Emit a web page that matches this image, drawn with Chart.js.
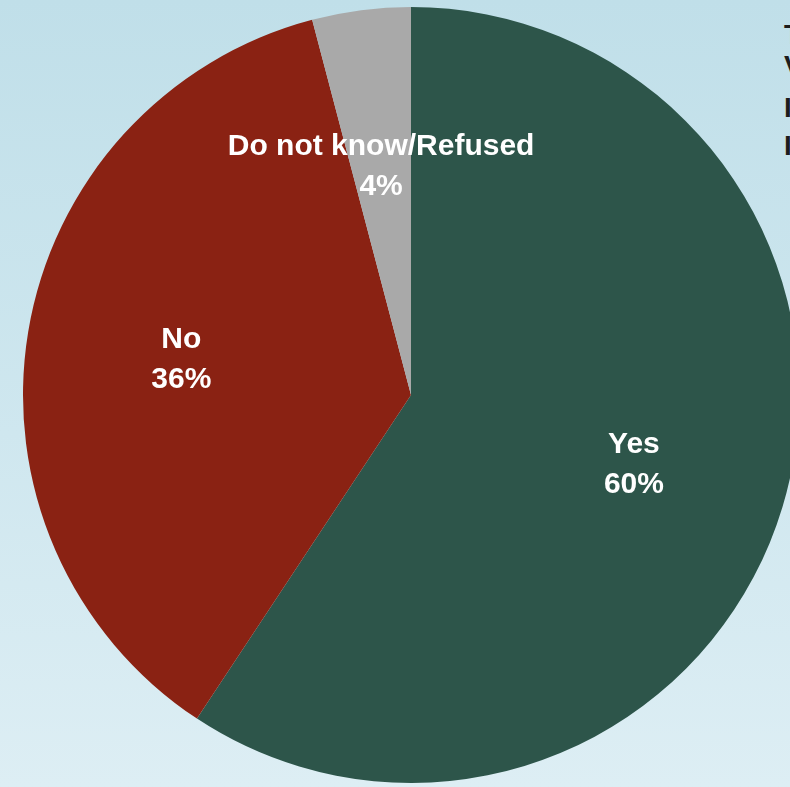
<!DOCTYPE html>
<html>
<head>
<meta charset="utf-8">
<script src="https://cdn.jsdelivr.net/npm/chart.js@4.4.0/dist/chart.umd.min.js"></script>
<style>
  html, body { margin:0; padding:0; width:790px; height:787px; overflow:hidden; }
  body { background: linear-gradient(to bottom, #c0dfe9 0%, #cfe7ef 55%, #ddeef4 100%); font-family: "Liberation Sans", Arial, sans-serif; position:relative; }
  #wrap { position:absolute; left:0; top:0; width:822px; height:787px; }
  .side { position:absolute; left:784px; font: bold 28px "Liberation Sans", Arial, sans-serif; color:#1c1c1c; white-space:nowrap; line-height:1; }
</style>
</head>
<body>
<!-- text block to the right, mostly outside the frame -->
<div class="side" style="top:21px">T</div>
<div class="side" style="top:52px">V</div>
<div class="side" style="top:94px">I</div>
<div class="side" style="top:132px">I</div>
<div id="wrap"><canvas id="pie"></canvas></div>
<script>
// data (slice sizes as measured, labels as printed)
const labels = ['Yes', 'No', 'Do not know/Refused'];
const values = [59.3, 36.6, 4.1];
const pctLabels = ['60%', '36%', '4%'];
const colors = ['#2d554a', '#8a2213', '#a9a9a9'];

// labels inside each slice, at 60% of the radius on the middle angle
const sliceLabels = {
  id: 'sliceLabels',
  afterDatasetsDraw(chart){
    const ctx = chart.ctx;
    const meta = chart.getDatasetMeta(0);
    ctx.save();
    ctx.fillStyle = '#ffffff';
    ctx.textAlign = 'center';
    ctx.textBaseline = 'middle';
    ctx.font = 'bold 30px "Liberation Sans", Arial, sans-serif';
    meta.data.forEach((arc, i)=>{
      const p = arc.getProps(['x','y','startAngle','endAngle','outerRadius']);
      const mid = (p.startAngle + p.endAngle) / 2;
      const r = p.outerRadius * 0.6;
      const cx = p.x + Math.cos(mid) * r;
      const cy = p.y + Math.sin(mid) * r + 3;
      ctx.fillText(labels[i], cx, cy - 20);
      ctx.fillText(pctLabels[i], cx, cy + 20);
    });
    ctx.restore();
  }
};

new Chart(document.getElementById('pie'), {
  type: 'pie',
  data: {
    labels,
    datasets: [{ data: values, backgroundColor: colors, borderWidth: 0 }]
  },
  options: {
    responsive: true,
    maintainAspectRatio: false,
    animation: false,
    layout: { padding: { top: 7, bottom: 4, left: 0, right: 0 } },
    plugins: { legend: { display: false }, tooltip: { enabled: false } }
  },
  plugins: [sliceLabels]
});
</script>
</body>
</html>
